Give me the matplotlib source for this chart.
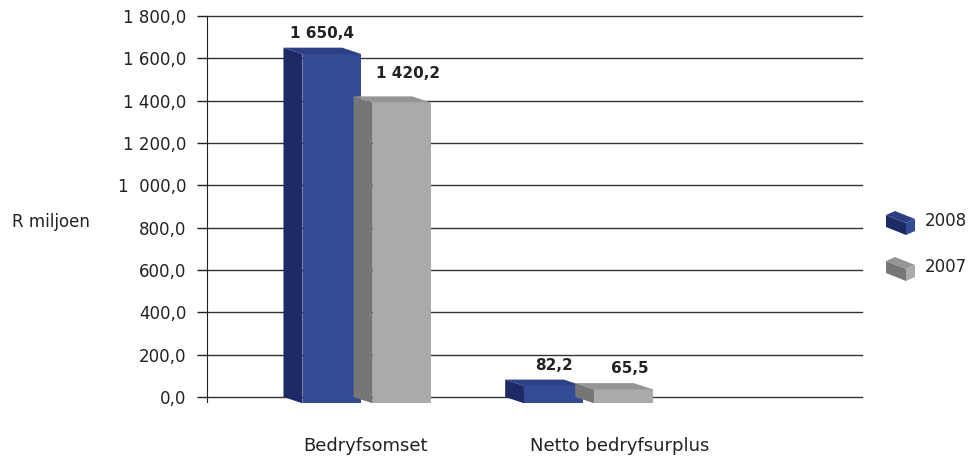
import matplotlib.pyplot as plt
from matplotlib.patches import Polygon
import numpy as np

# %% DATA
categories = ['Bedryfsomset', 'Netto bedryfsurplus']
years = ['2008', '2007']
vals_2008 = [1650.4, 82.2]
vals_2007 = [1420.2, 65.5]
value_labels_2008 = ['1 650,4', '82,2']
value_labels_2007 = ['1 420,2', '65,5']
yticks = [0, 200, 400, 600, 800, 1000, 1200, 1400, 1600, 1800]
ytick_labels = ['0,0', '200,0', '400,0', '600,0', '800,0', '1  000,0',
                '1 200,0', '1 400,0', '1 600,0', '1 800,0']

# colours: front, side, top
blue = ('#334a94', '#1e2a66', '#2b3f85')
grey = ('#aaaaaa', '#767676', '#959595')

# %% LAYOUT (units: 1 = distance between categories)
persp = [-0.035, -0.165]   # group shift from the perspective
front_w = 0.23
depth_x = 0.075
depth_y = 30.0            # in data units
front_left = {'2008': -0.21, '2007': 0.065}

fig = plt.figure(figsize=(9.69, 4.59), dpi=100)
ax = fig.add_axes([207/969, 1 - 397/459, 655/969, 381/459])
ax.set_xlim(-0.62, 1.95)
ax.set_ylim(0, 1800)

def bar3d(ax, x0, v, cols, z):
    # front face drawn shifted down, back edge sits at the value
    front = Polygon([(x0, -depth_y), (x0 + front_w, -depth_y),
                     (x0 + front_w, v - depth_y), (x0, v - depth_y)],
                    closed=True, fc=cols[0], ec='none', zorder=z, clip_on=False)
    side = Polygon([(x0 - depth_x, 0), (x0 - depth_x, v),
                    (x0, v - depth_y), (x0, -depth_y)],
                   closed=True, fc=cols[1], ec='none', zorder=z, clip_on=False)
    top = Polygon([(x0 - depth_x, v), (x0 - depth_x + front_w, v),
                   (x0 + front_w, v - depth_y), (x0, v - depth_y)],
                  closed=True, fc=cols[2], ec='none', zorder=z, clip_on=False)
    for p in (side, front, top):
        ax.add_patch(p)

x = np.arange(len(categories))
for i in x:
    g = i + persp[i]
    bar3d(ax, g + front_left['2008'], vals_2008[i], blue, 3)
    bar3d(ax, g + front_left['2007'], vals_2007[i], grey, 4)
    # value labels
    cx8 = g + front_left['2008'] + front_w / 2 - depth_x / 2
    cx7 = g + front_left['2007'] + front_w / 2 - depth_x / 2
    ax.annotate(value_labels_2008[i], (cx8 + 0.04 * i, vals_2008[i]),
                xytext=(0, 5), textcoords='offset points', ha='center',
                va='bottom', fontsize=11, fontweight='bold', color='#222222')
    ax.annotate(value_labels_2007[i], (cx7 + 0.06, vals_2007[i]),
                xytext=(0, 11 if i == 0 else 5), textcoords='offset points',
                ha='center', va='bottom', fontsize=11, fontweight='bold',
                color='#222222')

# grid + axes
ax.set_yticks(yticks)
ax.set_yticklabels(ytick_labels, fontsize=12, color='#222222')
ax.yaxis.grid(True, color='#333333', linewidth=1, clip_on=False)
for gl in ax.get_ygridlines():
    gl.set_clip_on(False)
ax.set_axisbelow(True)
ax.tick_params(axis='y', direction='out', length=7, width=1, pad=8, color='#222222')
ax.set_xticks(x)
ax.set_xticklabels(categories, fontsize=13, color='#222222')
ax.tick_params(axis='x', length=0, pad=29)
for s in ['top', 'right', 'bottom']:
    ax.spines[s].set_visible(False)
ax.spines['left'].set_bounds(-25, 1800)
ax.spines['left'].set_color('#222222')

fig.text(12/969, 1 - 222/459, 'R miljoen', fontsize=12, ha='left',
         va='center', color='#222222')

# legend: little 3D boxes in figure coords
def legend_box(y_px, cols, label):
    W, H = 969.0, 459.0
    def p(px, py):
        return (px / W, 1 - py / H)
    side = Polygon([p(886, 214), p(906, 222), p(906, 234), p(886, 226)],
                   closed=True, fc=cols[1], ec='none', transform=fig.transFigure)
    top = Polygon([p(886, 214), p(895, 210), p(915, 218), p(906, 222)],
                  closed=True, fc=cols[2], ec='none', transform=fig.transFigure)
    end = Polygon([p(906, 222), p(915, 218), p(915, 230), p(906, 234)],
                  closed=True, fc=cols[0], ec='none', transform=fig.transFigure)
    dy = y_px - 219
    for poly in (side, top, end):
        xy = poly.get_xy()
        xy[:, 1] -= dy / H
        poly.set_xy(xy)
        fig.add_artist(poly)
    fig.text(925 / W, 1 - (y_px + 1) / H, label, fontsize=12, ha='left',
             va='center', color='#222222')

legend_box(220, blue, years[0])
legend_box(266, grey, years[1])

fig.savefig('out.png', dpi=100)
